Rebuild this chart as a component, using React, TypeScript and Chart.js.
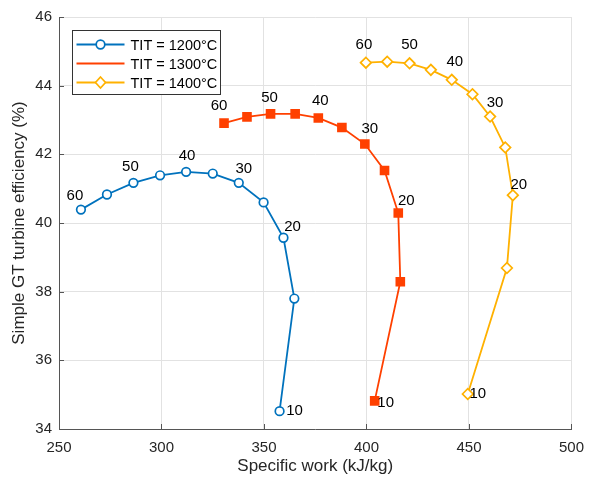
import React, { useEffect, useRef } from 'react';
import { Chart, registerables } from 'chart.js';

Chart.register(...registerables);

// Pressure ratio of each point (first = 60, last = 10)
const pressureRatios = [60, 55, 50, 45, 40, 35, 30, 25, 20, 15, 10];
const labelledRatios = [60, 50, 40, 30, 20, 10];

const seriesLabels = ['TIT = 1200°C', 'TIT = 1300°C', 'TIT = 1400°C'];

const work1200 = [260.7, 273.4, 286.3, 299.3, 312.0, 325.0, 337.7, 349.8, 359.5, 364.8, 357.6];
const eff1200 = [40.39, 40.83, 41.17, 41.39, 41.49, 41.44, 41.17, 40.6, 39.57, 37.8, 34.52];

const work1300 = [330.5, 341.7, 353.2, 365.2, 376.5, 388.0, 399.2, 408.8, 415.5, 416.5, 404.0];
const eff1300 = [42.91, 43.09, 43.18, 43.18, 43.06, 42.78, 42.3, 41.53, 40.29, 38.29, 34.82];

const work1400 = [399.7, 410.1, 421.0, 431.4, 441.6, 451.7, 460.3, 467.7, 471.4, 468.5, 449.4];
const eff1400 = [44.67, 44.7, 44.65, 44.46, 44.17, 43.75, 43.1, 42.2, 40.81, 38.69, 35.02];

const xTicks = [250, 300, 350, 400, 450, 500];
const yTicks = [34, 36, 38, 40, 42, 44, 46];

const COLORS = ['#0072BD', '#FF4000', '#FFB100'];
const FONT = "'Liberation Sans', Arial, Helvetica, sans-serif";
const TEXT = '#262626';

// pixel offsets of the pressure-ratio labels (style only), order of labelledRatios
const labelOffsets = [
  [[-6, -14], [-3, -16], [1, -16], [5, -14], [9, -11], [15, 0]],
  [[-5, -17], [-1, -16], [2, -17], [5, -15], [8, -12], [11, 2]],
  [[-2, -18], [0, -18], [3, -18], [5, -14], [6, -10], [10, 0]],
];

function toPoints(xs: number[], ys: number[]) {
  return xs.map((x, i) => ({ x, y: ys[i] }));
}

function drawMarker(ctx: CanvasRenderingContext2D, kind: string, x: number, y: number, color: string) {
  ctx.save();
  ctx.strokeStyle = color;
  ctx.lineWidth = 1.7;
  ctx.fillStyle = '#fff';
  ctx.beginPath();
  if (kind === 'circle') {
    ctx.arc(x, y, 4.3, 0, Math.PI * 2);
  } else if (kind === 'diamond') {
    ctx.moveTo(x, y - 5.5);
    ctx.lineTo(x + 5, y);
    ctx.lineTo(x, y + 5.5);
    ctx.lineTo(x - 5, y);
    ctx.closePath();
  }
  ctx.fill();
  ctx.stroke();
  ctx.restore();
}

const legendMarkers = ['circle', '', 'diamond'];

const boxLegend = {
  id: 'boxLegend',
  afterDraw(chart: any) {
    const { ctx, chartArea } = chart;
    const x0 = Math.round(chartArea.left + 13) + 0.5;
    const y0 = Math.round(chartArea.top + 13) + 0.5;
    const w = 148;
    const h = 64;
    ctx.save();
    ctx.fillStyle = '#fff';
    ctx.fillRect(x0, y0, w, h);
    ctx.strokeStyle = '#333';
    ctx.lineWidth = 1;
    ctx.strokeRect(x0, y0, w, h);
    chart.data.datasets.forEach((ds: any, i: number) => {
      const y = y0 + 14 + i * 19;
      ctx.strokeStyle = ds.borderColor;
      ctx.lineWidth = 2;
      ctx.beginPath();
      ctx.moveTo(x0 + 4, y);
      ctx.lineTo(x0 + 52, y);
      ctx.stroke();
      if (legendMarkers[i]) drawMarker(ctx, legendMarkers[i], x0 + 28, y, ds.borderColor);
      ctx.fillStyle = '#000';
      ctx.font = `14.5px ${FONT}`;
      ctx.textAlign = 'left';
      ctx.textBaseline = 'middle';
      ctx.fillText(ds.label, x0 + 58, y + 1);
    });
    ctx.restore();
  },
};

const ratioLabels = {
  id: 'ratioLabels',
  afterDatasetsDraw(chart: any) {
    const { ctx } = chart;
    ctx.save();
    ctx.font = `15px ${FONT}`;
    ctx.fillStyle = '#000';
    ctx.textAlign = 'center';
    ctx.textBaseline = 'middle';
    chart.data.datasets.forEach((_ds: any, i: number) => {
      const meta = chart.getDatasetMeta(i);
      pressureRatios.forEach((r, j) => {
        const k = labelledRatios.indexOf(r);
        if (k < 0) return;
        const pt = meta.data[j];
        const [dx, dy] = labelOffsets[i][k];
        ctx.fillText(String(r), pt.x + dx, pt.y + dy);
      });
    });
    ctx.restore();
  },
};

const inwardTicks = {
  id: 'inwardTicks',
  afterDraw(chart: any) {
    const { ctx, chartArea, scales } = chart;
    ctx.save();
    ctx.strokeStyle = '#555';
    ctx.lineWidth = 1;
    ctx.beginPath();
    xTicks.forEach((v) => {
      const x = Math.round(scales.x.getPixelForValue(v)) + 0.5;
      ctx.moveTo(x, chartArea.bottom);
      ctx.lineTo(x, chartArea.bottom - 5);
    });
    yTicks.forEach((v) => {
      const y = Math.round(scales.y.getPixelForValue(v)) + 0.5;
      ctx.moveTo(chartArea.left, y);
      ctx.lineTo(chartArea.left + 5, y);
    });
    ctx.stroke();
    ctx.restore();
  },
};

export default function App() {
  const ref = useRef<HTMLCanvasElement | null>(null);

  useEffect(() => {
    if (!ref.current) return;
    const series = [
      { xs: work1200, ys: eff1200, style: 'circle', radius: 4.3 },
      { xs: work1300, ys: eff1300, style: 'rect', radius: 6.8 },
      { xs: work1400, ys: eff1400, style: 'rectRot', radius: 5.3 },
    ];
    const chart = new Chart(ref.current, {
      type: 'scatter',
      data: {
        datasets: series.map((s, i) => ({
          label: seriesLabels[i],
          data: toPoints(s.xs, s.ys),
          showLine: true,
          borderColor: COLORS[i],
          backgroundColor: i === 1 ? COLORS[i] : '#ffffff',
          pointBackgroundColor: i === 1 ? COLORS[i] : '#ffffff',
          pointBorderColor: COLORS[i],
          pointBorderWidth: i === 1 ? 0 : 1.7,
          borderWidth: 1.8,
          pointStyle: s.style as any,
          pointRadius: s.radius,
          tension: 0,
        })),
      },
      options: {
        responsive: false,
        animation: false,
        events: [],
        layout: { padding: { left: 0, top: 17, right: 14, bottom: 0 } },
        plugins: {
          legend: { display: false },
          tooltip: { enabled: false },
        },
        scales: {
          x: {
            type: 'linear',
            min: 250,
            max: 500,
            afterBuildTicks: (s: any) => {
              s.ticks = xTicks.map((v) => ({ value: v }));
            },
            ticks: { font: { family: FONT, size: 15 }, color: TEXT, padding: 10 },
            grid: { color: '#e2e2e2', drawTicks: false },
            border: { color: '#555', width: 1 },
            title: {
              display: true,
              text: 'Specific work (kJ/kg)',
              font: { family: FONT, size: 17 },
              color: TEXT,
              padding: { top: 0, bottom: 5 },
            },
            afterFit: (s: any) => {
              s.height = 53;
            },
          },
          y: {
            type: 'linear',
            min: 34,
            max: 46,
            afterBuildTicks: (s: any) => {
              s.ticks = yTicks.map((v) => ({ value: v }));
            },
            ticks: { font: { family: FONT, size: 15 }, color: TEXT, padding: 7 },
            grid: { color: '#e2e2e2', drawTicks: false },
            border: { color: '#555', width: 1 },
            title: {
              display: true,
              text: 'Simple GT turbine efficiency (%)',
              font: { family: FONT, size: 17 },
              color: TEXT,
              padding: { top: 9, bottom: 0 },
            },
            afterFit: (s: any) => {
              s.width = 59;
            },
          },
        },
      } as any,
      plugins: [ratioLabels, inwardTicks, boxLegend],
    });
    return () => chart.destroy();
  }, []);

  return (
    <div style={{ position: 'fixed', left: 0, top: 0, width: 594, height: 482, background: '#fff' }}>
      <canvas ref={ref} width={594} height={482} />
    </div>
  );
}
